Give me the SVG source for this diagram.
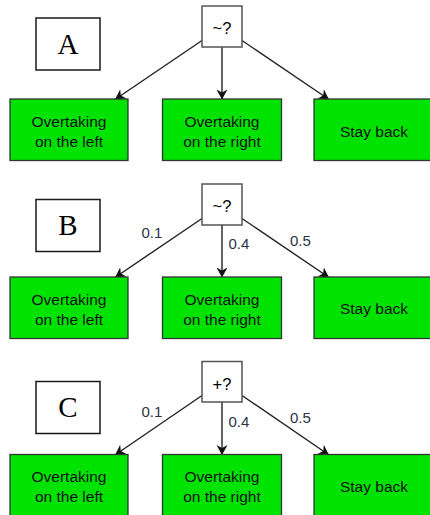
<svg xmlns="http://www.w3.org/2000/svg" width="430" height="515" viewBox="0 0 430 515">
  <defs>
    <style>
      .q { fill: #ffffff; stroke: #555555; stroke-width: 1.5; }
      .tag { fill: #ffffff; stroke: #1a1a1a; stroke-width: 1.5; }
      .act { fill: #00e300; stroke: #333333; stroke-width: 1.3; }
      .qt { font-family: "Liberation Sans", Arial, sans-serif; font-size: 16.5px; fill: #000000; text-anchor: middle; }
      .tt { font-family: "Liberation Serif", "Times New Roman", serif; font-size: 29px; fill: #000000; text-anchor: middle; }
      .at { font-family: "Liberation Sans", Arial, sans-serif; font-size: 15.5px; fill: #111111; text-anchor: middle; }
      .pl { font-family: "Liberation Sans", Arial, sans-serif; font-size: 15px; fill: #2b3344; }
      .edge { fill: none; stroke: #222222; stroke-width: 1.4; marker-end: url(#arrow); }
    </style>
    <marker id="arrow" markerUnits="userSpaceOnUse" markerWidth="14" markerHeight="14" refX="10" refY="5.5" orient="auto">
      <path d="M0,0 L10,5.5 L0,11 L3,5.5 Z" fill="#111111"/>
    </marker>
  </defs>

  <!-- connectors -->
  <g id="connectors">
    <!-- A -->
    <path class="edge" d="M202,40.5 L115,99.5"/>
    <path class="edge" d="M222,47 L222,99.5"/>
    <path class="edge" d="M242,40.5 L329,99.5"/>
    <!-- B -->
    <path class="edge" d="M202,218.5 L115,277.5"/>
    <path class="edge" d="M222,225 L222,277.5"/>
    <path class="edge" d="M242,218.5 L329,277.5"/>
    <!-- C -->
    <path class="edge" d="M202,395.5 L115,455"/>
    <path class="edge" d="M222,402 L222,455"/>
    <path class="edge" d="M242,395.5 L329,455"/>
  </g>

  <!-- edge labels -->
  <g id="edge-labels">
    <text class="pl" x="141.5" y="238">0.1</text>
    <text class="pl" x="228.5" y="249">0.4</text>
    <text class="pl" x="290" y="246">0.5</text>
    <text class="pl" x="141.5" y="416.5">0.1</text>
    <text class="pl" x="228.5" y="426.5">0.4</text>
    <text class="pl" x="290" y="423">0.5</text>
  </g>

  <!-- panel A -->
  <g id="tagA"><rect class="tag" x="36" y="18" width="64" height="52"/><text class="tt" x="68" y="53.5">A</text></g>
  <g id="qA"><rect class="q" x="202" y="6" width="40" height="41"/><text class="qt" x="222" y="34">~?</text></g>
  <g id="leftA"><rect class="act" x="10" y="99" width="118" height="61.5"/><text class="at" x="69" y="126.5">Overtaking</text><text class="at" x="69" y="146.5">on the left</text></g>
  <g id="rightA"><rect class="act" x="162.5" y="99" width="119" height="61.5"/><text class="at" x="222" y="126.5">Overtaking</text><text class="at" x="222" y="146.5">on the right</text></g>
  <g id="backA"><rect class="act" x="314" y="99" width="118" height="61.5"/><text class="at" x="374" y="136.5">Stay back</text></g>

  <!-- panel B -->
  <g id="tagB"><rect class="tag" x="36" y="199.5" width="64" height="52"/><text class="tt" x="68" y="235">B</text></g>
  <g id="qB"><rect class="q" x="202" y="184" width="40" height="41"/><text class="qt" x="222" y="212">~?</text></g>
  <g id="leftB"><rect class="act" x="10" y="277" width="118" height="61.5"/><text class="at" x="69" y="304.5">Overtaking</text><text class="at" x="69" y="324.5">on the left</text></g>
  <g id="rightB"><rect class="act" x="162.5" y="277" width="119" height="61.5"/><text class="at" x="222" y="304.5">Overtaking</text><text class="at" x="222" y="324.5">on the right</text></g>
  <g id="backB"><rect class="act" x="314" y="277" width="118" height="61.5"/><text class="at" x="374" y="314">Stay back</text></g>

  <!-- panel C -->
  <g id="tagC"><rect class="tag" x="36" y="381.5" width="64" height="52"/><text class="tt" x="68" y="417">C</text></g>
  <g id="qC"><rect class="q" x="202" y="361.5" width="40" height="40.5"/><text class="qt" x="222" y="389.5">+?</text></g>
  <g id="leftC"><rect class="act" x="10" y="454.5" width="118" height="64"/><text class="at" x="69" y="482">Overtaking</text><text class="at" x="69" y="502">on the left</text></g>
  <g id="rightC"><rect class="act" x="162.5" y="454.5" width="119" height="64"/><text class="at" x="222" y="482">Overtaking</text><text class="at" x="222" y="502">on the right</text></g>
  <g id="backC"><rect class="act" x="314" y="454.5" width="118" height="64"/><text class="at" x="374" y="491.5">Stay back</text></g>
</svg>
